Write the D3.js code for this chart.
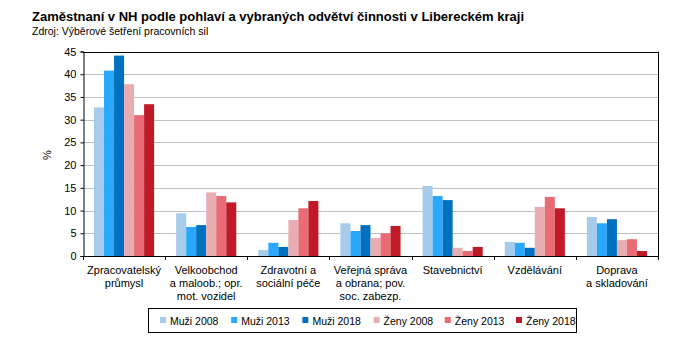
<!DOCTYPE html>
<html><head><meta charset="utf-8">
<script src="https://cdn.jsdelivr.net/npm/d3@7/dist/d3.min.js"></script>
<style>body{margin:0;background:#fff;} text{font-family:"Liberation Sans",Arial,sans-serif;}</style>
</head><body><svg id="c" width="694" height="351"></svg>
<script>
const categories = [
  ["Zpracovatelský","průmysl"],
  ["Velkoobchod","a maloob.; opr.","mot. vozidel"],
  ["Zdravotní a","sociální péče"],
  ["Veřejná správa","a obrana; pov.","soc. zabezp."],
  ["Stavebnictví"],
  ["Vzdělávání"],
  ["Doprava","a skladování"]
];
const seriesNames = ["Muži 2008","Muži 2013","Muži 2018","Ženy 2008","Ženy 2013","Ženy 2018"];
const seriesColors = ["#a6cce9","#29a8fe","#0070c0","#e8adb3","#e96b74","#c01a28"];
const muzi2008 = [32.7, 9.4, 1.3, 7.2, 15.4, 3.1, 8.6];
const muzi2013 = [40.8, 6.4, 2.9, 5.5, 13.2, 2.9, 7.2];
const muzi2018 = [44.1, 6.8, 2.0, 6.8, 12.3, 1.8, 8.1];
const zeny2008 = [37.8, 14.0, 7.9, 4.0, 1.8, 10.8, 3.5];
const zeny2013 = [31.0, 13.2, 10.5, 5.0, 1.1, 13.0, 3.7];
const zeny2018 = [33.4, 11.8, 12.1, 6.6, 2.0, 10.5, 1.1];
const series = [muzi2008, muzi2013, muzi2018, zeny2008, zeny2013, zeny2018];
const yTicks = [0,5,10,15,20,25,30,35,40,45];

const svg = d3.select("#c");
const L=83, R=658, T=51.5, B=256;
const x0 = d3.scaleBand().domain(d3.range(categories.length)).range([L,R]).paddingInner(0).paddingOuter(0);
const x1 = d3.scaleBand().domain(d3.range(series.length)).range([0,x0.bandwidth()]).paddingOuter(1.1).paddingInner(0);
const y = d3.scaleLinear().domain([0,45]).range([B,T]);

svg.append("text").attr("x",32).attr("y",21).attr("font-size",13).attr("font-weight","bold").attr("fill","#000")
  .text("Zaměstnaní v NH podle pohlaví a vybraných odvětví činnosti v Libereckém kraji");
svg.append("text").attr("x",32).attr("y",35).attr("font-size",10.5).attr("fill","#000")
  .text("Zdroj: Výběrové šetření pracovních sil");

// gridlines
svg.append("g").selectAll("line").data(yTicks.filter(d=>d>0 && d<45)).join("line")
  .attr("x1",L).attr("x2",R).attr("y1",d=>Math.round(y(d))+0.5).attr("y2",d=>Math.round(y(d))+0.5)
  .attr("stroke","#c0c0c0").attr("stroke-width",1);

// bars
const g = svg.append("g");
categories.forEach((c,i)=>{
  series.forEach((s,j)=>{
    g.append("rect").attr("x",x0(i)+x1(j)).attr("width",x1.bandwidth())
      .attr("y",y(s[i])).attr("height",y(0)-y(s[i])).attr("fill",seriesColors[j]);
  });
});

// frame top/right
svg.append("line").attr("x1",L).attr("x2",R+0.5).attr("y1",Math.round(T)+0.5).attr("y2",Math.round(T)+0.5).attr("stroke","#000");
svg.append("line").attr("x1",R+0.5).attr("x2",R+0.5).attr("y1",T).attr("y2",B).attr("stroke","#000");

// y axis
const yAxis = d3.axisLeft(y).tickValues(yTicks).tickSize(3).tickPadding(4);
const ya = svg.append("g").attr("transform",`translate(${L+0.5},0)`).call(yAxis);
ya.select(".domain").attr("stroke","#000");
ya.selectAll(".tick line").attr("stroke","#000");
ya.selectAll("text").attr("font-size",11).attr("fill","#000").style("font-family","Liberation Sans, Arial");

// x axis
const bx = svg.append("g");
bx.append("line").attr("x1",L).attr("x2",R+0.5).attr("y1",B+0.5).attr("y2",B+0.5).attr("stroke","#000");
bx.selectAll(".tk").data(d3.range(categories.length+1)).join("line")
  .attr("x1",d=>Math.round(L+d*x0.step())+0.5).attr("x2",d=>Math.round(L+d*x0.step())+0.5)
  .attr("y1",B).attr("y2",B+4).attr("stroke","#000");
categories.forEach((c,i)=>{
  const t = bx.append("text").attr("text-anchor","middle").attr("font-size",11).attr("fill","#000");
  c.forEach((ln,k)=>{
    t.append("tspan").attr("x",x0(i)+x0.bandwidth()/2).attr("y",274+k*13).text(ln);
  });
});

// y label
svg.append("text").attr("transform","translate(51,155) rotate(-90)").attr("text-anchor","middle")
  .attr("font-size",11).attr("fill","#000").text("%");

// legend
svg.append("rect").attr("x",148.5).attr("y",308.5).attr("width",428).attr("height",24)
  .attr("fill","#fff").attr("stroke","#000");
const lg = svg.append("g");
seriesNames.forEach((n,j)=>{
  const lx = 160 + j*71.2;
  lg.append("rect").attr("x",lx).attr("y",317).attr("width",6).attr("height",6).attr("fill",seriesColors[j]);
  lg.append("text").attr("x",lx+10).attr("y",324.5).attr("font-size",10.5).attr("fill","#000").text(n);
});
</script></body></html>
